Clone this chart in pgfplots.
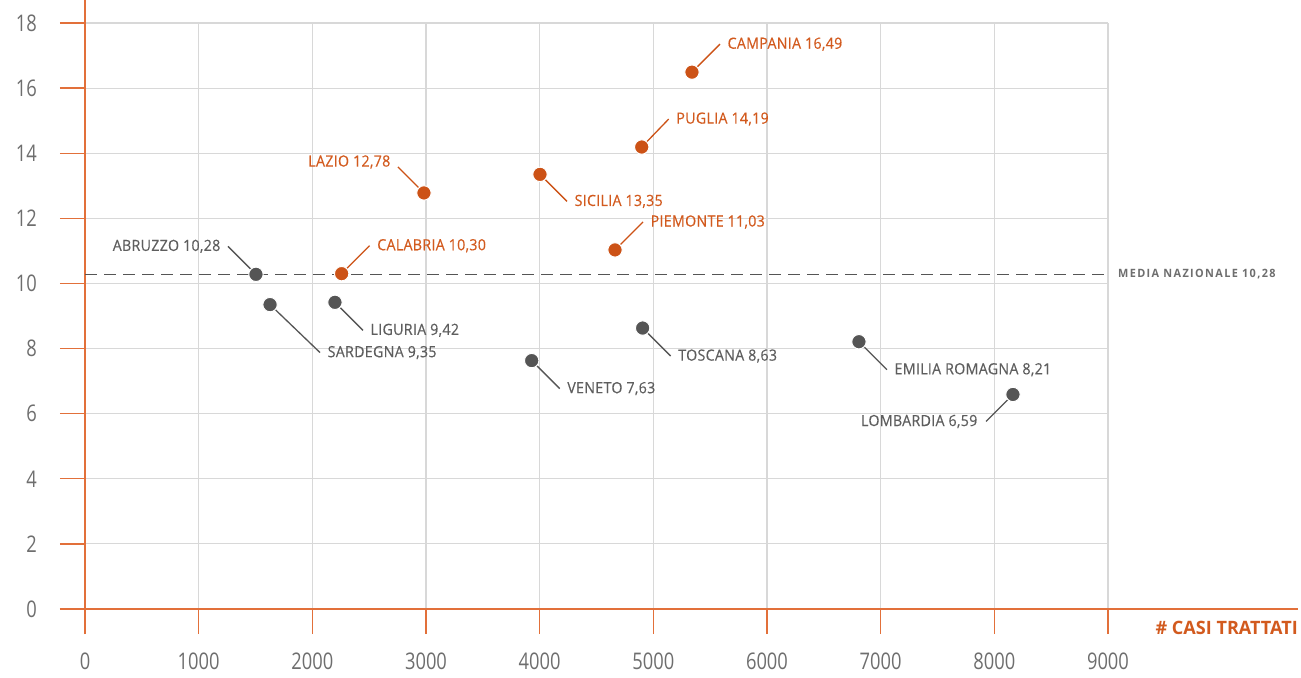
\documentclass[border=0pt]{standalone}
\usepackage{pgfplots}
\pgfplotsset{compat=1.18}
\usepackage{fontspec}
\setmainfont{Open Sans}
\newfontfamily\tickfont[FakeStretch=0.8]{Open Sans}
\newfontfamily\labfont[FakeStretch=0.92,LetterSpace=2,FakeBold=0.4]{Open Sans}
\newfontfamily\boldfont[FakeStretch=0.98]{Open Sans}
\newfontfamily\medfont[FakeStretch=0.95,LetterSpace=12]{Open Sans}
\definecolor{axorange}{HTML}{E2703A}
\definecolor{dotorange}{HTML}{CC5216}
\definecolor{txtorange}{HTML}{D25A1E}
\definecolor{dotgray}{HTML}{555555}
\definecolor{txtgray}{HTML}{5E5E5E}
\definecolor{tickgray}{HTML}{6E6E6E}
\definecolor{gridgray}{HTML}{D8D8D8}
\begin{document}
\begin{tikzpicture}
\useasboundingbox (-85bp,-69bp) rectangle (1216bp,609bp);
\begin{axis}[
  at={(0,0)}, anchor=south west,
  scale only axis, width=1023bp, height=586bp,
  xmin=0, xmax=9000, ymin=0, ymax=18,
  clip=false,
  axis x line*=bottom, axis y line*=left,
  axis line style={draw=none},
  xtick={0,1000,...,9000}, ytick={0,2,...,18},
  tick align=outside, major tick length=25bp,
  tick style={draw=axorange, line width=1.4bp},
  grid=major, grid style={draw=gridgray, line width=1.1bp},
  xticklabel style={inner sep=0pt, font=\tickfont\fontsize{23}{26}\selectfont, text=tickgray},
  yticklabel style={inner sep=0pt, font=\tickfont\fontsize{23}{26}\selectfont, text=tickgray},
  xticklabel shift=19bp, yticklabel shift=23bp,
  scaled ticks=false,
  xticklabel={\pgfmathprintnumber[fixed,1000 sep={}]{\tick}},
  /pgf/number format/assume math mode=true,
]
% orange axis lines
\draw[axorange, line width=1.5bp] (axis cs:0,0) ++(0,-25bp) -- ++(0,634bp);
\draw[axorange, line width=1.5bp] (axis cs:0,0) ++(-25bp,0) -- ++(1238bp,0);
\node[anchor=east, inner sep=0pt, text=txtorange, font=\boldfont\bfseries\fontsize{18.5}{20}\selectfont] at (axis cs:0,0) [xshift=1213bp, yshift=-19bp] {\# CASI TRATTATI};
% national average
\addplot[draw=dotgray, line width=1.2bp, dash pattern=on 12bp off 7bp] coordinates {(0,10.28) (9000,10.28)};
\node[anchor=west, inner sep=0pt, text=tickgray, font=\medfont\bfseries\fontsize{11.5}{13}\selectfont] at (axis cs:9000,10.28) [xshift=10bp] {MEDIA NAZIONALE 10,28};
% leader lines gray
\begin{scope}[line width=1.3bp, dotgray]
\draw (axis cs:1504,10.28) -- ++(-28bp,28bp) node[anchor=east, inner sep=0pt, xshift=-7bp, text=txtgray, font=\labfont\fontsize{15.5}{17}\selectfont]{ABRUZZO 10,28};
\draw (axis cs:1628,9.35) -- ++(50bp,-48bp) node[anchor=west, inner sep=0pt, xshift=7bp, text=txtgray, font=\labfont\fontsize{15.5}{17}\selectfont]{SARDEGNA 9,35};
\draw (axis cs:2199,9.42) -- ++(28bp,-28bp) node[anchor=west, inner sep=0pt, xshift=7bp, text=txtgray, font=\labfont\fontsize{15.5}{17}\selectfont]{LIGURIA 9,42};
\draw (axis cs:3930,7.63) -- ++(28bp,-28bp) node[anchor=west, inner sep=0pt, xshift=7bp, text=txtgray, font=\labfont\fontsize{15.5}{17}\selectfont]{VENETO 7,63};
\draw (axis cs:4906,8.63) -- ++(28bp,-28bp) node[anchor=west, inner sep=0pt, xshift=7bp, text=txtgray, font=\labfont\fontsize{15.5}{17}\selectfont]{TOSCANA 8,63};
\draw (axis cs:6809,8.21) -- ++(28bp,-28bp) node[anchor=west, inner sep=0pt, xshift=7bp, text=txtgray, font=\labfont\fontsize{15.5}{17}\selectfont]{EMILIA ROMAGNA 8,21};
\draw (axis cs:8164,6.59) -- ++(-27bp,-27bp) node[anchor=east, inner sep=0pt, xshift=-8bp, text=txtgray, font=\labfont\fontsize{15.5}{17}\selectfont]{LOMBARDIA 6,59};
\end{scope}
\begin{scope}[line width=1.3bp, dotorange]
\draw (axis cs:2258,10.30) -- ++(28bp,28bp) node[anchor=west, inner sep=0pt, xshift=7bp, text=txtorange, font=\labfont\fontsize{15.5}{17}\selectfont]{CALABRIA 10,30};
\draw (axis cs:2982,12.78) -- ++(-26bp,26bp) node[anchor=east, inner sep=0pt, xshift=-7bp, yshift=5bp, text=txtorange, font=\labfont\fontsize{15.5}{17}\selectfont]{LAZIO 12,78};
\draw (axis cs:4003,13.35) -- ++(27bp,-27bp) node[anchor=west, inner sep=0pt, xshift=7bp, text=txtorange, font=\labfont\fontsize{15.5}{17}\selectfont]{SICILIA 13,35};
\draw (axis cs:4663,11.03) -- ++(28bp,28bp) node[anchor=west, inner sep=0pt, xshift=7bp, text=txtorange, font=\labfont\fontsize{15.5}{17}\selectfont]{PIEMONTE 11,03};
\draw (axis cs:4898,14.19) -- ++(27bp,28bp) node[anchor=west, inner sep=0pt, xshift=7bp, text=txtorange, font=\labfont\fontsize{15.5}{17}\selectfont]{PUGLIA 14,19};
\draw (axis cs:5340,16.49) -- ++(28bp,28bp) node[anchor=west, inner sep=0pt, xshift=7bp, text=txtorange, font=\labfont\fontsize{15.5}{17}\selectfont]{CAMPANIA 16,49};
\end{scope}
% dots
\addplot[only marks, mark=*, mark size=7.2bp, mark options={fill=dotgray, draw=white, line width=1bp}] coordinates {
(1504,10.28) (1628,9.35) (2199,9.42) (3930,7.63) (4906,8.63) (6809,8.21) (8164,6.59)};
\addplot[only marks, mark=*, mark size=7.2bp, mark options={fill=dotorange, draw=white, line width=1bp}] coordinates {
(2258,10.30) (2982,12.78) (4003,13.35) (4663,11.03) (4898,14.19) (5340,16.49)};
\end{axis}
\end{tikzpicture}
\end{document}
